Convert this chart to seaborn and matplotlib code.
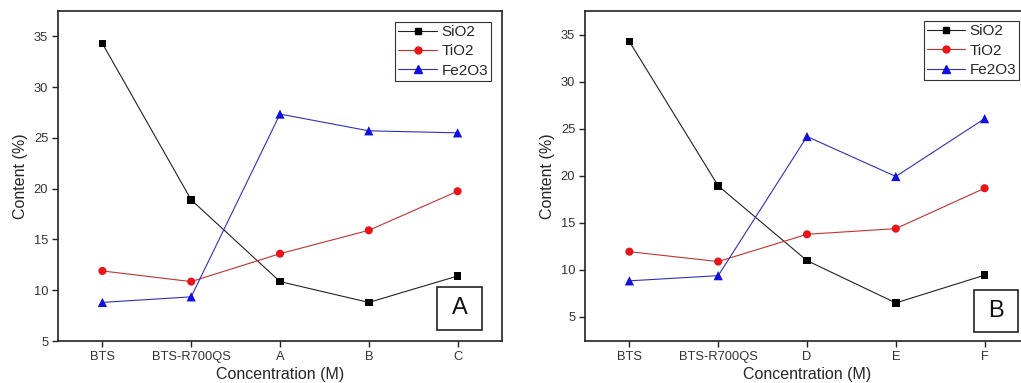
import matplotlib
matplotlib.use("Agg")
import matplotlib.pyplot as plt
from matplotlib.lines import Line2D
from matplotlib.patches import Rectangle
import seaborn as sns
import pandas as pd

sns.set_style("ticks")
plt.rcParams['font.family'] = ['Liberation Sans', 'DejaVu Sans']

oxides = ["SiO2", "TiO2", "Fe2O3"]
cats_a = ["BTS", "BTS-R700QS", "A", "B", "C"]
cats_b = ["BTS", "BTS-R700QS", "D", "E", "F"]

sio2_a = [34.3, 18.9, 10.85, 8.8, 11.4]
tio2_a = [11.9, 10.85, 13.6, 15.9, 19.75]
fe2o3_a = [8.8, 9.35, 27.35, 25.7, 25.5]

sio2_b = [34.25, 18.9, 10.95, 6.45, 9.4]
tio2_b = [11.9, 10.85, 13.75, 14.35, 18.65]
fe2o3_b = [8.8, 9.35, 24.15, 19.9, 26.05]

colors = {"SiO2": "black", "TiO2": "#e8141a", "Fe2O3": "#1010e0"}
lcolors = {"SiO2": "#222222", "TiO2": "#c83030", "Fe2O3": "#3030c0"}
markers = {"SiO2": "s", "TiO2": "o", "Fe2O3": "^"}
msize = {"SiO2": 30, "TiO2": 34, "Fe2O3": 44}


def make_df(cats, series):
    rows = []
    for name, vals in zip(oxides, series):
        for i, (c, v) in enumerate(zip(cats, vals)):
            rows.append({"pos": i, "cat": c, "oxide": name, "value": v})
    return pd.DataFrame(rows)


fig = plt.figure(figsize=(10.21, 3.83), dpi=100)
W = 444 / 1021
axA = fig.add_axes([58 / 1021, 42 / 383, W, 330 / 383])
axB = fig.add_axes([585 / 1021, 42 / 383, W, 330 / 383])

panels = [
    (axA, cats_a, [sio2_a, tio2_a, fe2o3_a], (5, 37.5), "A", (0.854, 0.033, 0.101, 0.131), (0.982, 0.976)),
    (axB, cats_b, [sio2_b, tio2_b, fe2o3_b], (2.4, 37.5), "B", (0.876, 0.027, 0.099, 0.128), (0.985, 0.978)),
]
yt = [5, 10, 15, 20, 25, 30, 35]

for ax, cats, series, ylim, tag, box, legpos in panels:
    df = make_df(cats, series)
    for name in oxides:
        sub = df[df.oxide == name]
        sns.lineplot(data=sub, x="pos", y="value", ax=ax, color=lcolors[name],
                     lw=0.8, sort=False, legend=False)
    for name in oxides:
        sub = df[df.oxide == name]
        sns.scatterplot(data=sub, x="pos", y="value", ax=ax, marker=markers[name],
                        color=colors[name], s=msize[name],
                        edgecolor="none", legend=False, zorder=5)
    handles = [Line2D([], [], color=lcolors[n], lw=0.8, marker=markers[n],
                      markerfacecolor=colors[n], markeredgecolor=colors[n],
                      markersize=5 if n != "Fe2O3" else 5.5) for n in oxides]
    leg = ax.legend(handles, oxides, loc="upper right", bbox_to_anchor=legpos,
                    fancybox=False, framealpha=1, edgecolor="#333333",
                    fontsize=11, handlelength=2.5, handletextpad=0.3,
                    borderpad=0.2, labelspacing=0.35, borderaxespad=0.2)
    leg.get_frame().set_linewidth(0.8)
    ax.set_xlim(-0.5, 4.5)
    ax.set_ylim(*ylim)
    ax.set_yticks(yt)
    ax.set_xticks(range(len(cats)))
    ax.set_xticklabels(cats)
    ax.tick_params(axis="both", labelsize=9.3, length=4, width=1, colors="#222222",
                   labelcolor="#333333", direction="out", pad=3)
    ax.set_xlabel("Concentration (M)", fontsize=11.5, labelpad=3)
    ax.set_ylabel("Content (%)", fontsize=11.5, labelpad=4)
    for s in ax.spines.values():
        s.set_linewidth(1.2)
        s.set_color("#222222")
    bx, by, bw, bh = box
    ax.add_patch(Rectangle((bx, by), bw, bh, transform=ax.transAxes, fill=True,
                           fc="white", ec="#222222", lw=1.2, zorder=6))
    ax.text(bx + bw / 2, by + bh / 2, tag, transform=ax.transAxes, fontsize=17,
            ha="center", va="center", zorder=7, color="#111111")

fig.savefig("out.png", dpi=100)
